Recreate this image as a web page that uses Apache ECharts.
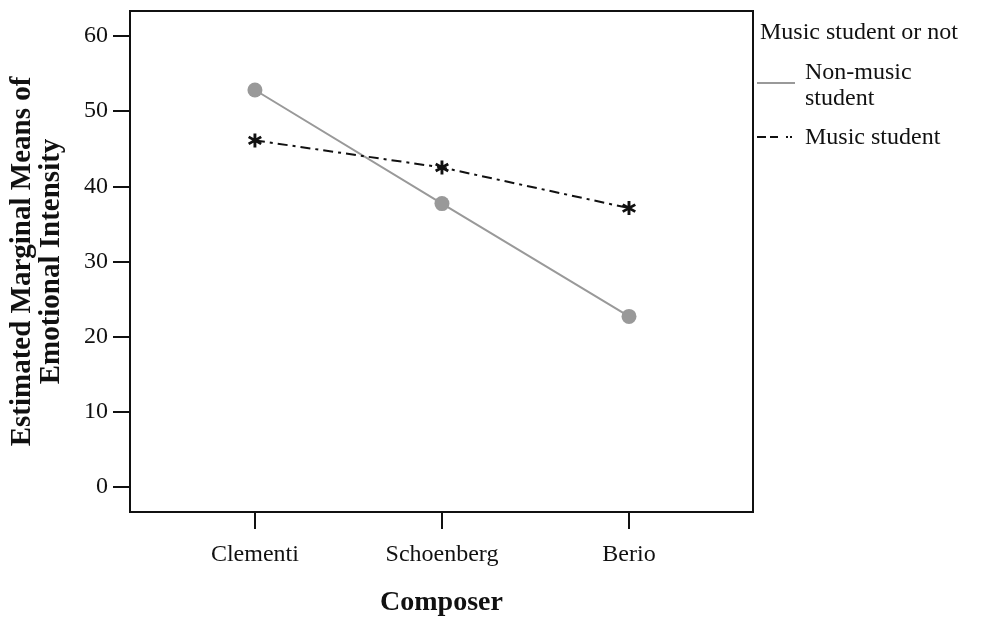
<!DOCTYPE html>
<html>
<head>
<meta charset="utf-8">
<script src="https://cdn.jsdelivr.net/npm/echarts@6/dist/echarts.min.js"></script>
<style>
  html, body { margin: 0; padding: 0; background: #fff; }
  #chart { width: 983px; height: 622px; }
</style>
</head>
<body>
<div id="chart"></div>
<script>
// Composers on the x axis (positions 0, 1, 2)
const composers = ['Clementi', 'Schoenberg', 'Berio'];
// Estimated marginal means per group
const nonMusicStudent = [52.8, 37.7, 22.7];
const musicStudent = [46.1, 42.5, 37.1];
// Y tick values
const yTicks = [0, 10, 20, 30, 40, 50, 60];

const FONT = '"Liberation Serif", "Times New Roman", serif';
const TEXT_SIZE = 24;
const INK = '#111';
const GREY = '#999999';

// Six-armed asterisk marker built from three bars
const asterisk = 'path://M-20,-100L20,-100L20,100L-20,100Z' +
  'M76.6,-67.3L96.6,-32.7L-76.6,67.3L-96.6,32.7Z' +
  'M-96.6,-32.7L-76.6,-67.3L96.6,32.7L76.6,67.3Z';

const xIdx = composers.map((_, i) => i);

const chart = echarts.init(document.getElementById('chart'), null, { renderer: 'canvas' });

const legendText = (x, y, text) => ({
  type: 'text', x: x, y: y,
  style: { text: text, fill: INK, font: TEXT_SIZE + 'px ' + FONT, align: 'left', verticalAlign: 'middle' }
});

chart.setOption({
  backgroundColor: '#fff',
  animation: false,
  grid: {
    left: 130, top: 11, right: 230, bottom: 106,
    show: true, borderColor: INK, borderWidth: 2, backgroundColor: 'transparent'
  },
  xAxis: {
    type: 'value',
    min: -0.668, max: 2.663,
    splitLine: { show: false },
    axisLine: { onZero: false, lineStyle: { color: INK, width: 2 } },
    axisTick: { show: true, customValues: xIdx, length: 17, lineStyle: { color: INK, width: 2 } },
    axisLabel: {
      customValues: xIdx,
      formatter: v => composers[Math.round(v)],
      margin: 31, color: INK, fontFamily: FONT, fontSize: TEXT_SIZE
    },
    name: 'Composer',
    nameLocation: 'middle',
    nameGap: 77,
    nameTextStyle: { color: INK, fontFamily: FONT, fontSize: 28, fontWeight: 'bold' }
  },
  yAxis: {
    type: 'value',
    min: -3.3, max: 63.3,
    splitLine: { show: false },
    axisLine: { onZero: false, lineStyle: { color: INK, width: 2 } },
    axisTick: { show: true, customValues: yTicks, length: 17, lineStyle: { color: INK, width: 2 } },
    axisLabel: {
      customValues: yTicks,
      margin: 22, color: INK, fontFamily: FONT, fontSize: TEXT_SIZE
    },
    name: 'Estimated Marginal Means of\nEmotional Intensity',
    nameLocation: 'middle',
    nameGap: 64,
    nameTextStyle: { color: INK, fontFamily: FONT, fontSize: 29, fontWeight: 'bold', lineHeight: 29 }
  },
  series: [
    {
      name: 'Non-music student',
      type: 'line',
      data: nonMusicStudent.map((v, i) => [i, v]),
      symbol: 'circle',
      symbolSize: 15,
      itemStyle: { color: GREY },
      lineStyle: { color: GREY, width: 2 },
      z: 2
    },
    {
      name: 'Music student',
      type: 'line',
      data: musicStudent.map((v, i) => [i, v]),
      symbol: asterisk,
      symbolSize: 14,
      itemStyle: { color: INK },
      lineStyle: { color: INK, width: 2, type: [10, 5, 3, 5] },
      z: 3
    }
  ],
  graphic: [
    legendText(760, 33, 'Music student or not'),
    {
      type: 'line', shape: { x1: 757, y1: 83, x2: 795, y2: 83 },
      style: { stroke: GREY, lineWidth: 2 }
    },
    legendText(805, 73, 'Non-music'),
    legendText(805, 99, 'student'),
    {
      type: 'line', shape: { x1: 757, y1: 137, x2: 797, y2: 137 },
      style: { stroke: INK, lineWidth: 2, lineDash: [9, 4, 8, 8, 2, 2, 2, 20] }
    },
    legendText(805, 138, 'Music student')
  ]
});
</script>
</body>
</html>
